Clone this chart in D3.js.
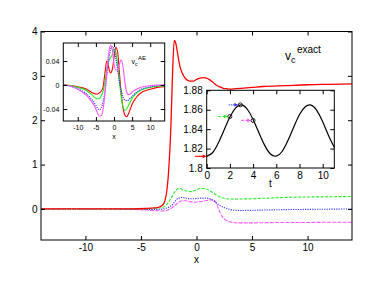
<!DOCTYPE html>
<html><head><meta charset="utf-8">
<script src="https://cdn.jsdelivr.net/npm/d3@7"></script>
<style>
body{margin:0;background:#fff;}
svg text{font-family:"Liberation Sans",Arial,sans-serif;fill:#000;}
</style></head>
<body><svg id="c" width="374" height="289"></svg>
<script>
// ---------- data ----------
const mainX = [-14,-10,-6,-4.5,-4,-3.5,-3,-2.7,-2.5,-2.3,-2.15,-2.0,-1.85,-1.7,-1.5,-1.3,-1.0,-0.6,-0.3,0,0.3,0.6,0.9,1.2,1.5,1.8,2.1,2.4,2.7,3.0,3.5,4,5,6,8,10,12,14];
const mainRed = [0,0,0,0.01,0.02,0.03,0.1,0.36,0.89,1.9,3.1,3.8,3.72,3.5,3.22,3.07,2.94,2.88,2.88,2.92,2.95,2.96,2.95,2.91,2.85,2.79,2.75,2.72,2.71,2.70,2.71,2.72,2.74,2.76,2.78,2.80,2.81,2.82];
const mainGreen = [0,0,0,0,0.01,0.02,0.04,0.09,0.16,0.24,0.30,0.37,0.42,0.45,0.46,0.44,0.41,0.39,0.40,0.43,0.46,0.46,0.45,0.41,0.36,0.31,0.27,0.245,0.23,0.225,0.222,0.225,0.23,0.24,0.26,0.27,0.275,0.28];
const mainBlue = [0,0,-0.005,-0.01,-0.01,-0.01,0,0.02,0.04,0.07,0.1,0.15,0.2,0.23,0.25,0.26,0.245,0.23,0.23,0.235,0.245,0.245,0.24,0.23,0.19,0.135,0.08,0.04,0.015,-0.01,-0.03,-0.035,-0.03,-0.025,-0.015,-0.01,-0.005,0];
const mainMagenta = [0,0,-0.01,-0.025,-0.035,-0.04,-0.045,-0.035,-0.015,0.01,0.04,0.07,0.1,0.13,0.17,0.185,0.185,0.165,0.15,0.155,0.165,0.175,0.19,0.205,0.205,0.12,-0.07,-0.2,-0.26,-0.29,-0.31,-0.315,-0.315,-0.31,-0.305,-0.305,-0.3,-0.3];
const mainXTicks = [-10,-5,0,5,10];
const mainYTicks = [0,1,2,3,4];

const aeX = [-14,-12,-10,-8,-7,-6,-5,-4.5,-4,-3.5,-3,-2.5,-2,-1.5,-1,-0.5,0,0.5,1,1.5,2,2.5,3,3.5,4,4.5,5,6,7,8,10,12,14];
const aeRed = [0,-0.001,-0.003,-0.006,-0.009,-0.013,-0.015,-0.015,-0.013,-0.01,-0.003,0.02,0.04,0.03,0.02,0.025,0.045,0.063,0.055,0.02,-0.015,-0.038,-0.05,-0.053,-0.048,-0.04,-0.032,-0.022,-0.015,-0.011,-0.007,-0.004,-0.003];
const aeGreen = [0,-0.001,-0.004,-0.008,-0.012,-0.017,-0.022,-0.023,-0.022,-0.018,-0.01,0.005,0.025,0.04,0.045,0.05,0.06,0.055,0.035,0.005,-0.02,-0.037,-0.042,-0.04,-0.034,-0.028,-0.022,-0.015,-0.01,-0.007,-0.004,-0.002,-0.001];
const aeBlue = [0,-0.002,-0.006,-0.013,-0.018,-0.025,-0.034,-0.039,-0.041,-0.038,-0.028,-0.01,0.015,0.04,0.058,0.064,0.06,0.045,0.025,0.005,-0.01,-0.02,-0.025,-0.026,-0.025,-0.022,-0.019,-0.013,-0.009,-0.006,-0.003,-0.001,0];
const aeMagenta = [0,-0.002,-0.007,-0.015,-0.021,-0.029,-0.04,-0.047,-0.052,-0.051,-0.04,-0.015,0.02,0.05,0.066,0.06,0.035,0.025,0.025,0.035,0.042,0.03,0.005,-0.012,-0.016,-0.015,-0.012,-0.008,-0.005,-0.003,-0.001,0,0];
const aeXTicks = [-10,-5,0,5,10];
const aeYTicks = [-0.04,0,0.04];
const aeYLabels = ["-0.04","0","0.04"];

const tT = [0,0.5,1,1.5,2,2.5,3,3.5,4,4.5,5,5.5,6,6.5,7,7.5,8,8.5,9,9.5,10,10.5,11];
const tV = [1.812,1.8157,1.8257,1.8392,1.8525,1.862,1.865,1.8605,1.850,1.8363,1.8233,1.8144,1.8122,1.817,1.8282,1.842,1.855,1.863,1.8647,1.859,1.8475,1.8335,1.8213];
const tXTicks = [0,2,4,6,8,10];
const tYTicks = [1.8,1.82,1.84,1.86,1.88];
const tYLabels = ["1.8","1.82","1.84","1.86","1.88"];
const arrowT = [0,2,2.9,4];
const arrowV = [1.812,1.853,1.865,1.849];
const markT = [2,2.9,4];
const markV = [1.853,1.865,1.849];

const colors = ["#ff0000","#22ee22","#3333ff","#ff55ff"];
const mainDash = [null,"3,1.5","1.2,1.2","4,1.2"];
const aeDash = [null,null,"1.2,1",null];
const arrowDash = [null,"2.5,1.5","1,1","2.5,1.5"];

// ---------- drawing ----------
const svg = d3.select("#c");
function axes(g, x, y, xt, yt, xfmt, yfmt, fs, pad){
  const [x0,x1] = x.range(), [y0,y1] = y.range();
  const b = g.append("g").attr("transform",`translate(0,${y0})`).call(d3.axisBottom(x).tickValues(xt).tickSize(-4).tickPadding(pad).tickFormat(xfmt));
  const t = g.append("g").attr("transform",`translate(0,${y1})`).call(d3.axisTop(x).tickValues(xt).tickSize(-4).tickFormat(""));
  const l = g.append("g").attr("transform",`translate(${x0},0)`).call(d3.axisLeft(y).tickValues(yt).tickSize(-4).tickPadding(pad).tickFormat(yfmt));
  const r = g.append("g").attr("transform",`translate(${x1},0)`).call(d3.axisRight(y).tickValues(yt).tickSize(-4).tickFormat(""));
  [b,t,l,r].forEach(a=>{a.select(".domain").remove(); a.selectAll("line").attr("stroke","#000"); a.selectAll("text").style("font-size",fs+"px").style("font-family","Liberation Sans, Arial, sans-serif").attr("fill","#111");});
  g.append("rect").attr("x",x0).attr("y",y1).attr("width",x1-x0).attr("height",y0-y1).attr("fill","none").attr("stroke","#000").attr("stroke-width",1);
}

// main
const mx = d3.scaleLinear().domain([-14,14]).range([41,352]);
const my = d3.scaleLinear().domain([-0.7,4]).range([240,31.5]);
const gm = svg.append("g");
const mainSeries = [mainRed,mainGreen,mainBlue,mainMagenta];
const mline = d3.line().x(d=>mx(d[0])).y(d=>my(d[1])).curve(d3.curveMonotoneX);
mainSeries.slice().reverse().forEach((s,ri)=>{
  const i = 3-ri;
  gm.append("path").attr("d",mline(mainX.map((v,k)=>[v,s[k]]))).attr("fill","none")
    .attr("stroke",colors[i]).attr("stroke-width",i===0?1.3:1.1).attr("stroke-dasharray",mainDash[i]);
});
axes(gm,mx,my,mainXTicks,mainYTicks,d=>d,d=>d,10,3.5);
gm.append("text").attr("x",mx(0)).attr("y",263).attr("text-anchor","middle").style("font-size","10px").text("x");
const lab = gm.append("text").attr("x",285).attr("y",60).style("font-size","12px");
lab.append("tspan").text("v");
lab.append("tspan").attr("dy",2.5).style("font-size","9px").text("c");
lab.append("tspan").attr("dy",-10).attr("dx",1.5).style("font-size","10px").text("exact");

// inset 1
const ax = d3.scaleLinear().domain([-14,14]).range([63.3,164.7]);
const ay = d3.scaleLinear().domain([-0.06,0.07]).range([121,43]);
const g1 = svg.append("g");
g1.append("rect").attr("x",63.3).attr("y",43).attr("width",101.4).attr("height",78).attr("fill","#fff");
const aline = d3.line().x(d=>ax(d[0])).y(d=>ay(d[1])).curve(d3.curveMonotoneX);
[aeRed,aeGreen,aeBlue,aeMagenta].forEach((s,i)=>{
  g1.append("path").attr("d",aline(aeX.map((v,k)=>[v,s[k]]))).attr("fill","none")
    .attr("stroke",colors[i]).attr("stroke-width",1.1).attr("stroke-dasharray",aeDash[i]);
});
axes(g1,ax,ay,aeXTicks,aeYTicks,d=>d,(d,i)=>aeYLabels[i],7,4);
g1.append("text").attr("x",ax(0)).attr("y",139).attr("text-anchor","middle").style("font-size","7px").text("x");
const lab1 = g1.append("text").attr("x",131.5).attr("y",64).style("font-size","7px");
lab1.append("tspan").text("v");
lab1.append("tspan").attr("dy",1.5).style("font-size","5px").text("c");
lab1.append("tspan").attr("dy",-6).attr("dx",0.5).style("font-size","6px").text("AE");

// inset 2
const tx = d3.scaleLinear().domain([0,11]).range([206.7,334.3]);
const ty = d3.scaleLinear().domain([1.8,1.88]).range([168,90.3]);
const g2 = svg.append("g");
g2.append("rect").attr("x",206.7).attr("y",90.3).attr("width",127.6).attr("height",77.7).attr("fill","#fff");
const tline = d3.line().x(d=>tx(d[0])).y(d=>ty(d[1])).curve(d3.curveNatural);
g2.append("path").attr("d",tline(tT.map((v,k)=>[v,tV[k]]))).attr("fill","none").attr("stroke","#000").attr("stroke-width",1.2);
axes(g2,tx,ty,tXTicks,tYTicks,d=>d,(d,i)=>tYLabels[i],10,4);
g2.append("text").attr("x",tx(5.5)).attr("y",187).attr("text-anchor","middle").style("font-size","10px").text("t");
arrowT.forEach((t,i)=>{
  const x1 = tx(t-1), x2 = tx(t), y = ty(arrowV[i]);
  const end = x2 - (i===0?0:2);
  g2.append("line").attr("x1",x1).attr("x2",end-3).attr("y1",y).attr("y2",y)
    .attr("stroke",colors[i]).attr("stroke-width",1.1).attr("stroke-dasharray",arrowDash[i]);
  g2.append("path").attr("d",`M${end},${y} L${end-4},${y-1.8} L${end-4},${y+1.8} Z`).attr("fill",colors[i]);
});
markT.forEach((t,i)=>{
  g2.append("circle").attr("cx",tx(t)).attr("cy",ty(markV[i])).attr("r",2).attr("fill","none").attr("stroke","#222").attr("stroke-width",1);
});
</script></body></html>
